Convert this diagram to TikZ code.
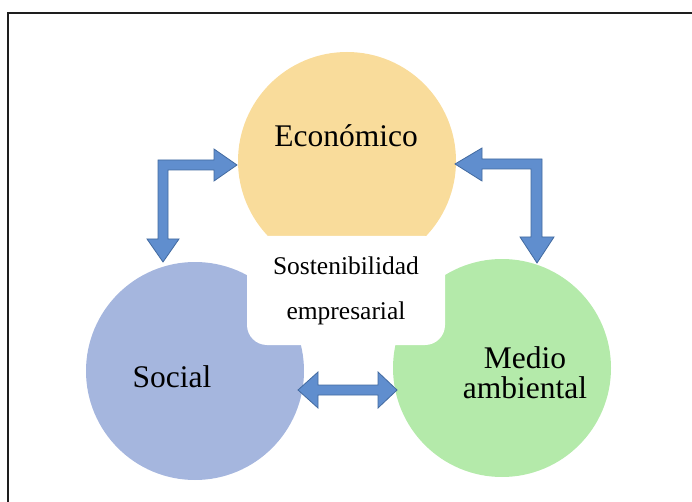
\documentclass[tikz,border=0pt]{standalone}
\usepackage{fontspec}
\setmainfont{Liberation Serif}
\definecolor{ecofill}{RGB}{249,220,155}
\definecolor{socfill}{RGB}{165,182,222}
\definecolor{envfill}{RGB}{180,234,170}
\definecolor{arrowfill}{RGB}{96,142,206}
\definecolor{arrowline}{RGB}{66,106,160}
\definecolor{framecol}{RGB}{30,30,30}
\begin{document}
\begin{tikzpicture}[x=1pt,y=-1pt,
  circ/.style={circle, minimum size=218pt, inner sep=0pt},
  blockarrow/.style={fill=arrowfill, draw=arrowline, line width=0.8pt, line join=miter},
  lbl/.style={font=\fontsize{31.5}{30}\selectfont, align=center, inner sep=0pt},
  corelbl/.style={font=\fontsize{25.5}{45}\selectfont, align=center, inner sep=0pt},
]
\useasboundingbox (0,0) rectangle (692,502);

% outer frame (top and left edges)
\draw[framecol, line width=1.6pt] (8,502) -- (8,13) -- (692,13);

% the three pillars
\node[circ, fill=ecofill] (eco) at (347,161) {};
\node[circ, fill=socfill] (soc) at (195,371) {};
\node[circ, fill=envfill] (env) at (502,368) {};

% central white panel that cuts into the circles
\node[fill=white, rounded corners=20pt, minimum width=198pt, minimum height=109pt,
      corelbl] (core) at (346,290.5) {Sostenibilidad\\empresarial};

% pillar labels
\node[lbl, anchor=base] (ecolbl) at (346,147) {Económico};
\node[lbl, anchor=base] (soclbl) at (172,387) {Social};
\node[lbl, anchor=base] (envlbl1) at (525,368) {Medio};
\node[lbl, anchor=base] (envlbl2) at (525,398) {ambiental};

% arrow anchor points
\coordinate (tlA) at (237,165);   % tip at Economico (left)
\coordinate (tlB) at (163,262);   % tip at Social (top)
\coordinate (trA) at (455,164);   % tip at Economico (right)
\coordinate (trB) at (537,263);   % tip at Medio ambiental (top)
\coordinate (bA) at (298,390);    % tip at Social (right)
\coordinate (bB) at (397,390);    % tip at Medio ambiental (left)

% elbow arrow: Social <-> Economico
\draw[blockarrow]
  (tlA) -- ++(-23,-16) -- ++(0,11) -- (158,160) -- (158,239) -- (147,239)
  -- (tlB) -- (179,239) -- (168,239) -- (168,170) -- (214,170) -- (214,181) -- cycle;

% elbow arrow: Economico <-> Medio ambiental
\draw[blockarrow]
  (trA) -- ++(27,-16) -- ++(0,11) -- (542,159) -- (542,237) -- (554,237)
  -- (trB) -- (520,237) -- (531,237) -- (531,169) -- (482,169) -- (482,181) -- cycle;

% straight double arrow: Social <-> Medio ambiental
\draw[blockarrow]
  (bA) -- (318,372) -- (318,385) -- (378,385) -- (378,372) -- (bB)
  -- (378,408) -- (378,395) -- (318,395) -- (318,408) -- cycle;
\end{tikzpicture}
\end{document}
